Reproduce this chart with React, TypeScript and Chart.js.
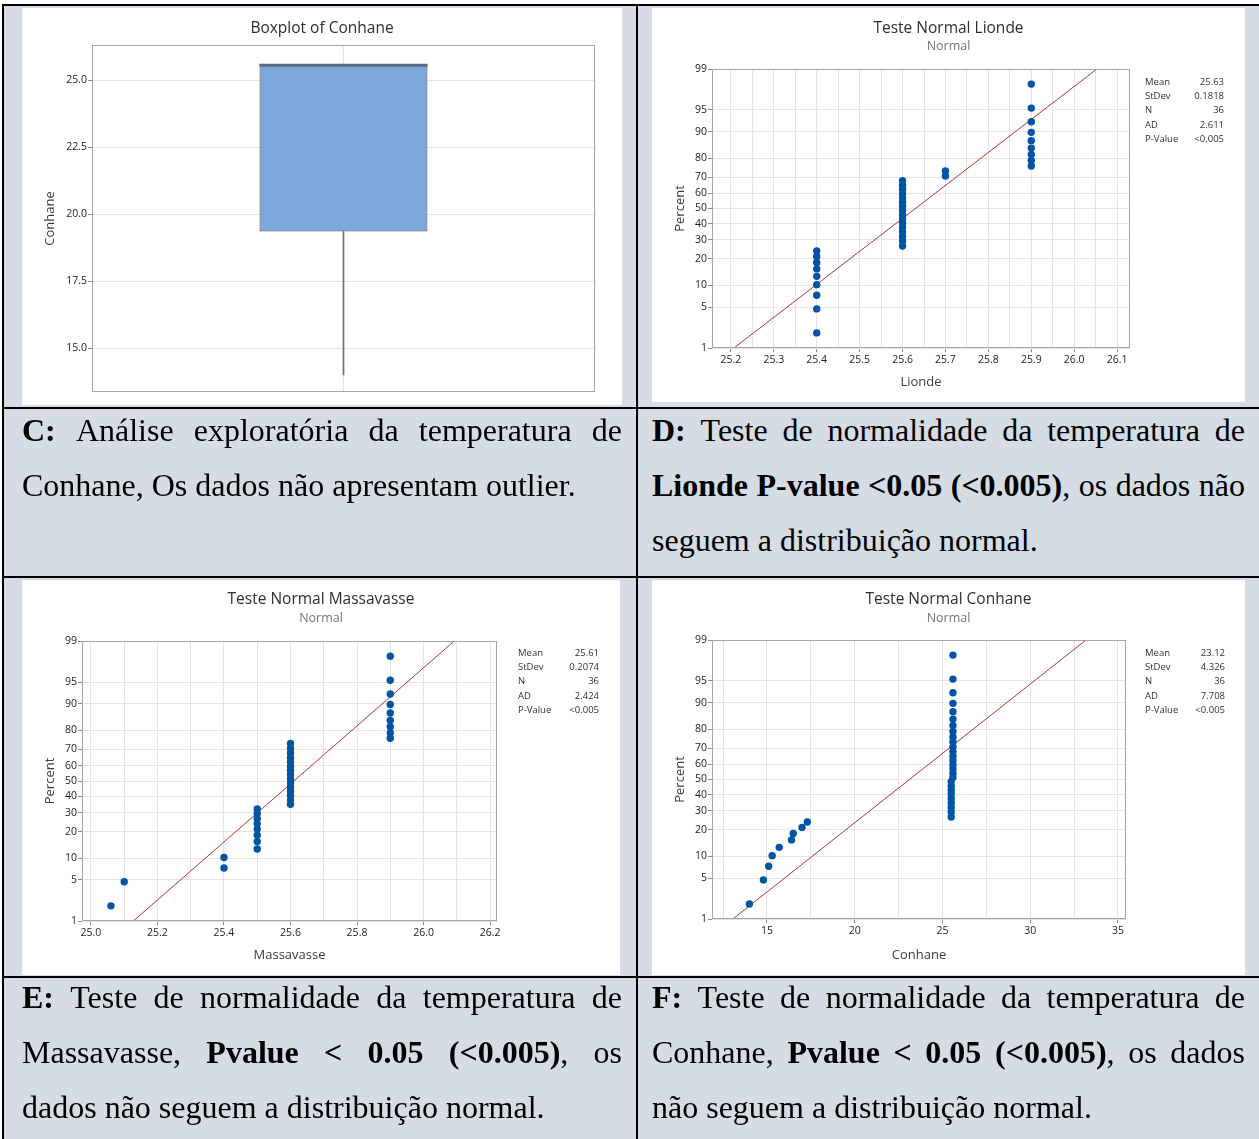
import React, { useEffect, useRef } from "react";
import { Chart, registerables } from "chart.js";

Chart.register(...registerables);

// ---------- data ----------

// Boxplot of Conhane (five-number summary)
const boxCategory = ["Conhane"];
const boxQ1 = 19.35;
const boxMedian = 25.55;
const boxQ3 = 25.6;
const boxWhiskerLow = 14.0;
const boxYMin = 13.36;
const boxYMax = 26.31;
const boxYStep = 2.5;

// plotting positions (percent) of the 36 ordered observations
const rankPercents = [
  1.9, 4.7, 7.4, 10.2, 12.9, 15.7, 18.4, 21.2, 23.9, 26.6, 29.4, 32.1,
  34.9, 37.6, 40.4, 43.1, 45.9, 48.6, 51.4, 54.1, 56.9, 59.6, 62.4, 65.1,
  67.9, 70.6, 73.4, 76.1, 78.8, 81.6, 84.3, 87.1, 89.8, 92.6, 95.3, 98.1,
];

// probability-axis tick labels (percent)
const percentTicks = [1, 5, 10, 20, 30, 40, 50, 60, 70, 80, 90, 95, 99];

// ordered temperatures
const liondeValues = [
  25.4, 25.4, 25.4, 25.4, 25.4, 25.4, 25.4, 25.4, 25.4,
  25.6, 25.6, 25.6, 25.6, 25.6, 25.6, 25.6, 25.6,
  25.6, 25.6, 25.6, 25.6, 25.6, 25.6, 25.6, 25.6,
  25.7, 25.7,
  25.9, 25.9, 25.9, 25.9, 25.9, 25.9, 25.9, 25.9, 25.9,
];
const massavasseValues = [
  25.06, 25.1, 25.4, 25.4,
  25.5, 25.5, 25.5, 25.5, 25.5, 25.5, 25.5, 25.5,
  25.6, 25.6, 25.6, 25.6, 25.6, 25.6, 25.6, 25.6,
  25.6, 25.6, 25.6, 25.6, 25.6, 25.6, 25.6,
  25.9, 25.9, 25.9, 25.9, 25.9, 25.9, 25.9, 25.9, 25.9,
];
const conhaneValues = [
  14.0, 14.8, 15.1, 15.3, 15.7, 16.4, 16.5, 17.0, 17.3,
  25.5, 25.5, 25.5, 25.5, 25.5, 25.5, 25.5, 25.5, 25.5,
  25.6, 25.6, 25.6, 25.6, 25.6, 25.6, 25.6, 25.6, 25.6,
  25.6, 25.6, 25.6, 25.6, 25.6, 25.6, 25.6, 25.6, 25.6,
];

// summary statistics
const statLabels = ["Mean", "StDev", "N", "AD", "P-Value"];
const liondeStats = ["25.63", "0.1818", "36", "2.611", "<0.005"];
const massavasseStats = ["25.61", "0.2074", "36", "2.424", "<0.005"];
const conhaneStats = ["23.12", "4.326", "36", "7.708", "<0.005"];

// captions (*...* = bold)
const captionC = [
  "*C:* Análise exploratória da temperatura de",
  "Conhane, Os dados não apresentam outlier.",
];
const captionD = [
  "*D:* Teste de normalidade da temperatura de",
  "*Lionde P-value <0.05 (<0.005)*, os dados não",
  "seguem a distribuição normal.",
];
const captionE = [
  "*E:* Teste de normalidade da temperatura de",
  "Massavasse, *Pvalue < 0.05 (<0.005)*, os",
  "dados não seguem a distribuição normal.",
];
const captionF = [
  "*F:* Teste de normalidade da temperatura de",
  "Conhane, *Pvalue < 0.05 (<0.005)*, os dados",
  "não seguem a distribuição normal.",
];

// ---------- helpers ----------

const FONT = "'Open Sans', 'Noto Sans', 'DejaVu Sans', sans-serif";
const SERIF = "'Liberation Serif', 'Times New Roman', serif";
const GRID = "#e4e4e4";
const TICK_TXT = "#1c1c1c";

Chart.defaults.font.family = FONT;

// inverse of the standard normal CDF (Acklam)
function probit(p: number): number {
  const a = [-39.69683028665376, 220.9460984245205, -275.9285104469687, 138.357751867269, -30.66479806614716, 2.506628277459239];
  const b = [-54.47609879822406, 161.5858368580409, -155.6989798598866, 66.80131188771972, -13.28068155288572];
  const c = [-0.007784894002430293, -0.3223964580411365, -2.400758277161838, -2.549732539343734, 4.374664141464968, 2.938163982698783];
  const d = [0.007784695709041462, 0.3224671290700398, 2.445134137142996, 3.754408661907416];
  const pl = 0.02425;
  if (p < pl) {
    const q = Math.sqrt(-2 * Math.log(p));
    return (((((c[0] * q + c[1]) * q + c[2]) * q + c[3]) * q + c[4]) * q + c[5]) /
      ((((d[0] * q + d[1]) * q + d[2]) * q + d[3]) * q + 1);
  }
  if (p > 1 - pl) {
    const q = Math.sqrt(-2 * Math.log(1 - p));
    return -(((((c[0] * q + c[1]) * q + c[2]) * q + c[3]) * q + c[4]) * q + c[5]) /
      ((((d[0] * q + d[1]) * q + d[2]) * q + d[3]) * q + 1);
  }
  const q = p - 0.5;
  const r = q * q;
  return (((((a[0] * r + a[1]) * r + a[2]) * r + a[3]) * r + a[4]) * r + a[5]) * q /
    (((((b[0] * r + b[1]) * r + b[2]) * r + b[3]) * r + b[4]) * r + 1);
}

function isMultiple(v: number, step: number) {
  const k = v / step;
  return Math.abs(k - Math.round(k)) < 1e-6;
}

// frame around the plot area
const framePlugin = {
  id: "frame",
  afterDatasetsDraw(chart: any) {
    const { ctx, chartArea: a } = chart;
    ctx.save();
    ctx.strokeStyle = "#a4a4a4";
    ctx.lineWidth = 1;
    ctx.strokeRect(Math.round(a.left) + 0.5, Math.round(a.top) + 0.5,
      Math.round(a.right - a.left) - 1, Math.round(a.bottom - a.top) - 1);
    ctx.restore();
  },
};

// title, subtitle and the statistics table
const headerPlugin = {
  id: "headers",
  afterDraw(chart: any, _args: any, opts: any) {
    const { ctx, width } = chart;
    ctx.save();
    ctx.textBaseline = "middle";
    if (opts.title) {
      ctx.font = `15.5px ${FONT}`;
      ctx.fillStyle = "#2e2e2e";
      ctx.textAlign = "center";
      ctx.fillText(opts.title, width / 2, opts.titleY);
    }
    if (opts.subtitle) {
      ctx.font = `12.5px ${FONT}`;
      ctx.fillStyle = "#767676";
      ctx.textAlign = "center";
      ctx.fillText(opts.subtitle, width / 2, opts.subtitleY);
    }
    if (opts.stats) {
      const s = opts.stats;
      ctx.font = `9.5px ${FONT}`;
      ctx.fillStyle = "#333333";
      s.labels.forEach((lab: string, i: number) => {
        const y = s.y + i * s.step;
        ctx.textAlign = "left";
        ctx.fillText(lab, s.x, y);
        ctx.textAlign = "right";
        ctx.fillText(s.values[i], s.right, y);
      });
    }
    ctx.restore();
  },
};

// median line across the box
const medianPlugin = {
  id: "median",
  afterDatasetsDraw(chart: any, _args: any, opts: any) {
    const bar = chart.getDatasetMeta(0).data[0];
    if (!bar) return;
    const { x, width } = bar.getProps(["x", "width"], true);
    const y = chart.scales.y.getPixelForValue(opts.value);
    const { ctx } = chart;
    ctx.save();
    ctx.strokeStyle = "#5a6a80";
    ctx.lineWidth = 3;
    ctx.beginPath();
    ctx.moveTo(x - width / 2, y);
    ctx.lineTo(x + width / 2, y);
    ctx.stroke();
    ctx.restore();
  },
};

function tickFont() {
  return { family: FONT, size: 10.5 };
}

function boxplotConfig(): any {
  return {
    type: "bar",
    data: {
      labels: boxCategory,
      datasets: [
        {
          data: [[boxQ1, boxQ3]],
          backgroundColor: "#7ca7d9",
          borderColor: "#5b6b80",
          borderWidth: 1.2,
          borderSkipped: false,
          barPercentage: 0.334,
          categoryPercentage: 1,
          grouped: false,
          order: 0,
        },
        {
          data: [[boxWhiskerLow, boxQ1]],
          backgroundColor: "#707070",
          barThickness: 1,
          grouped: false,
          order: 1,
        },
      ],
    },
    options: {
      responsive: false,
      animation: false,
      events: [],
      layout: { padding: { left: 20, right: 27, top: 37, bottom: 13 } },
      plugins: {
        legend: { display: false },
        tooltip: { enabled: false },
        headers: { title: "Boxplot of Conhane", titleY: 21 },
        median: { value: boxMedian },
      },
      scales: {
        x: {
          ticks: { display: false },
          grid: { color: GRID, offset: false, drawTicks: false },
          border: { display: false },
          afterFit: (s: any) => { s.height = 0; },
        },
        y: {
          min: boxYMin,
          max: boxYMax,
          ticks: {
            stepSize: boxYStep,
            includeBounds: false,
            padding: 1,
            color: TICK_TXT,
            font: tickFont(),
            callback: (v: number) => v.toFixed(1),
          },
          grid: { color: GRID, tickLength: 4, tickColor: "#8c8c8c" },
          border: { display: false },
          title: {
            display: true,
            text: "Conhane",
            color: "#3c3c3c",
            font: { family: FONT, size: 13 },
            padding: { top: 0, bottom: 0 },
          },
          afterFit: (s: any) => { s.width = 50; },
        },
      },
    },
    plugins: [framePlugin, medianPlugin, headerPlugin],
  };
}

type NormalSpec = {
  values: number[];
  stats: string[];
  title: string;
  xTitle: string;
  xMin: number;
  xMax: number;
  gridStep: number;
  labelStep: number;
  digits: number;
  padRight: number;
  padTop: number;
  xHeight: number;
  titleY: number;
  subtitleY: number;
  statX: number;
  statRight: number;
  statY: number;
};

function normalConfig(spec: NormalSpec): any {
  const zMin = probit(percentTicks[0] / 100);
  const zMax = probit(percentTicks[percentTicks.length - 1] / 100);
  const mean = parseFloat(spec.stats[0]);
  const sd = parseFloat(spec.stats[1]);
  return {
    type: "scatter",
    data: {
      datasets: [
        {
          type: "line",
          data: [
            { x: mean + sd * zMin, y: zMin },
            { x: mean + sd * zMax, y: zMax },
          ],
          borderColor: "#b23434",
          borderWidth: 1,
          pointRadius: 0,
          fill: false,
          order: 1,
        },
        {
          type: "scatter",
          data: spec.values.map((v, i) => ({ x: v, y: probit(rankPercents[i] / 100) })),
          pointRadius: 3.7,
          pointBackgroundColor: "#0054a6",
          pointBorderColor: "#0054a6",
          pointBorderWidth: 0,
          order: 0,
        },
      ],
    },
    options: {
      responsive: false,
      animation: false,
      events: [],
      layout: { padding: { left: 20, right: spec.padRight, top: spec.padTop, bottom: 0 } },
      plugins: {
        legend: { display: false },
        tooltip: { enabled: false },
        headers: {
          title: spec.title,
          titleY: spec.titleY,
          subtitle: "Normal",
          subtitleY: spec.subtitleY,
          stats: {
            labels: statLabels,
            values: spec.stats,
            x: spec.statX,
            right: spec.statRight,
            y: spec.statY,
            step: 14.3,
          },
        },
      },
      scales: {
        x: {
          type: "linear",
          min: spec.xMin,
          max: spec.xMax,
          ticks: {
            stepSize: spec.gridStep,
            includeBounds: false,
            autoSkip: false,
            maxRotation: 0,
            padding: 2,
            color: TICK_TXT,
            font: tickFont(),
            callback: (v: number) => (isMultiple(v, spec.labelStep) ? v.toFixed(spec.digits) : ""),
          },
          grid: {
            color: GRID,
            tickLength: 4,
            tickColor: (ctx: any) =>
              ctx.tick && isMultiple(ctx.tick.value, spec.labelStep) ? "#8c8c8c" : "rgba(0,0,0,0)",
          },
          border: { display: false },
          title: {
            display: true,
            text: spec.xTitle,
            color: "#3c3c3c",
            font: { family: FONT, size: 13 },
            padding: { top: 0, bottom: 12 },
          },
          afterFit: (s: any) => { s.height = spec.xHeight; },
        },
        y: {
          type: "linear",
          min: zMin,
          max: zMax,
          afterBuildTicks: (s: any) => {
            s.ticks = percentTicks.map((p) => ({ value: probit(p / 100) }));
          },
          ticks: {
            autoSkip: false,
            padding: 1,
            color: TICK_TXT,
            font: tickFont(),
            callback: (_v: number, i: number) => String(percentTicks[i]),
          },
          grid: { color: GRID, tickLength: 4, tickColor: "#8c8c8c" },
          border: { display: false },
          title: {
            display: true,
            text: "Percent",
            color: "#3c3c3c",
            font: { family: FONT, size: 13 },
            padding: { top: 0, bottom: 0 },
          },
          afterFit: (s: any) => { s.width = 40; },
        },
      },
    },
    plugins: [framePlugin, headerPlugin],
  };
}

// ---------- components ----------

function ChartPanel(props: { left: number; top: number; width: number; height: number; config: () => any }) {
  const ref = useRef<HTMLCanvasElement | null>(null);
  useEffect(() => {
    if (!ref.current) return;
    const chart = new Chart(ref.current, props.config());
    return () => chart.destroy();
  }, []);
  return (
    <div
      style={{
        position: "absolute",
        left: props.left,
        top: props.top,
        width: props.width,
        height: props.height,
        background: "#ffffff",
      }}
    >
      <canvas ref={ref} width={props.width} height={props.height} style={{ display: "block" }} />
    </div>
  );
}

function parseLine(line: string) {
  let bold = false;
  return line.split(" ").map((word) => {
    const parts: { text: string; bold: boolean }[] = [];
    word.split("*").forEach((seg, i) => {
      if (i > 0) bold = !bold;
      if (seg) parts.push({ text: seg, bold });
    });
    return parts;
  });
}

function Caption(props: { lines: string[]; left: number; top: number; width: number }) {
  const LH = 55;
  return (
    <>
      {props.lines.map((line, li) => {
        const words = parseLine(line);
        const justified = li < props.lines.length - 1;
        return (
          <div
            key={li}
            style={{
              position: "absolute",
              left: props.left,
              top: props.top + li * LH,
              width: props.width,
              height: LH,
              lineHeight: `${LH}px`,
              fontFamily: SERIF,
              fontSize: 32,
              color: "#000",
              display: justified ? "flex" : "block",
              justifyContent: "space-between",
              whiteSpace: "nowrap",
            }}
          >
            {words.map((w, wi) => (
              <span key={wi}>
                {w.map((p, pi) => (
                  <span key={pi} style={{ fontWeight: p.bold ? 700 : 400 }}>{p.text}</span>
                ))}
                {!justified && wi < words.length - 1 ? " " : ""}
              </span>
            ))}
          </div>
        );
      })}
    </>
  );
}

const W = 1259;
const H = 1139;
const CELL_BG = "#d5dce4";

function Rule(props: { x: number; y: number; w: number; h: number }) {
  return <div style={{ position: "absolute", left: props.x, top: props.y, width: props.w, height: props.h, background: "#000" }} />;
}

export default function App() {
  return (
    <div style={{ position: "absolute", left: 0, top: 0, width: W, height: H, background: CELL_BG, overflow: "hidden" }}>
      <div style={{ position: "absolute", left: 0, top: 0, width: W, height: 4, background: "#fff" }} />
      <div style={{ position: "absolute", left: 0, top: 0, width: 2, height: H, background: "#fff" }} />

      <ChartPanel left={22} top={8} width={600} height={397} config={boxplotConfig} />
      <ChartPanel
        left={652}
        top={8}
        width={593}
        height={394}
        config={() =>
          normalConfig({
            values: liondeValues, stats: liondeStats, title: "Teste Normal Lionde", xTitle: "Lionde",
            xMin: 25.156, xMax: 26.13, gridStep: 0.05, labelStep: 0.1, digits: 1,
            padRight: 115, padTop: 61, xHeight: 54, titleY: 21, subtitleY: 38,
            statX: 493, statRight: 572, statY: 74,
          })
        }
      />
      <ChartPanel
        left={22}
        top={580}
        width={598}
        height={395}
        config={() =>
          normalConfig({
            values: massavasseValues, stats: massavasseStats, title: "Teste Normal Massavasse", xTitle: "Massavasse",
            xMin: 24.973, xMax: 26.221, gridStep: 0.1, labelStep: 0.2, digits: 1,
            padRight: 123, padTop: 61, xHeight: 54, titleY: 20, subtitleY: 38,
            statX: 496, statRight: 577, statY: 73,
          })
        }
      />
      <ChartPanel
        left={652}
        top={580}
        width={593}
        height={395}
        config={() =>
          normalConfig({
            values: conhaneValues, stats: conhaneStats, title: "Teste Normal Conhane", xTitle: "Conhane",
            xMin: 11.87, xMax: 35.46, gridStep: 2.5, labelStep: 5, digits: 0,
            padRight: 119, padTop: 60, xHeight: 56, titleY: 20, subtitleY: 38,
            statX: 493, statRight: 573, statY: 73,
          })
        }
      />

      <Caption lines={captionC} left={22} top={403} width={600} />
      <Caption lines={captionD} left={652} top={403} width={593} />
      <Caption lines={captionE} left={22} top={970} width={600} />
      <Caption lines={captionF} left={652} top={970} width={593} />

      <Rule x={2} y={4} w={W} h={2} />
      <Rule x={2} y={4} w={2} h={H} />
      <Rule x={636} y={4} w={2} h={H} />
      <Rule x={2} y={407} w={W} h={2} />
      <Rule x={2} y={576} w={W} h={2} />
      <Rule x={2} y={976} w={W} h={2} />
    </div>
  );
}
